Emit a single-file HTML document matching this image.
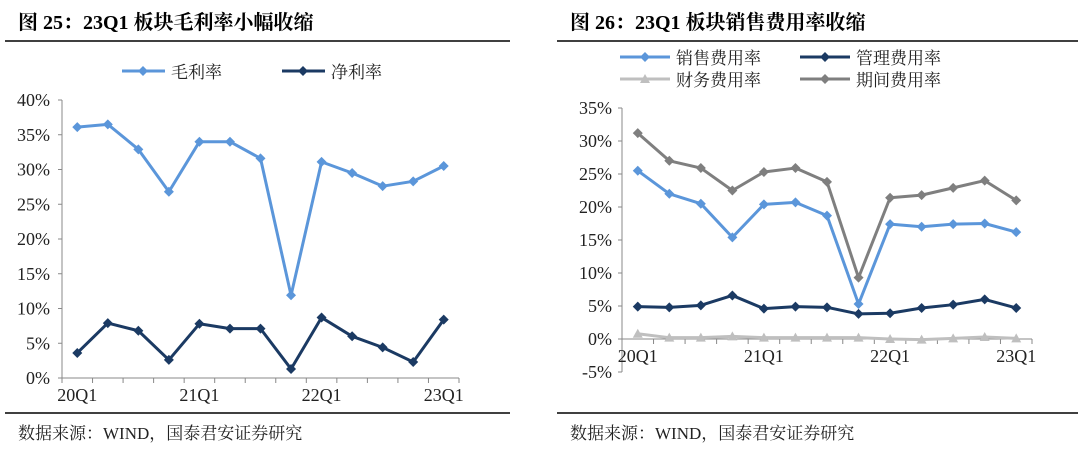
<!DOCTYPE html>
<html><head><meta charset="utf-8"><style>
body{margin:0;background:#fff;width:1080px;height:446px;overflow:hidden}
svg text{font-family:"Liberation Serif","Noto Serif CJK SC",serif}
</style></head><body>
<svg width="1080" height="446" xmlns="http://www.w3.org/2000/svg">
<g>
<text x="18" y="29" font-size="20" font-weight="bold" fill="#000">图 25：23Q1 板块毛利率小幅收缩</text>
<line x1="5" y1="41" x2="510" y2="41" stroke="#000" stroke-width="1.5"/>
<line x1="5" y1="413" x2="510" y2="413" stroke="#000" stroke-width="1.5"/>
<text x="18" y="439" font-size="17" fill="#222">数据来源：WIND，国泰君安证券研究</text>
</g>
<g>
<text x="570" y="29" font-size="20" font-weight="bold" fill="#000">图 26：23Q1 板块销售费用率收缩</text>
<line x1="557" y1="41" x2="1078" y2="41" stroke="#000" stroke-width="1.5"/>
<line x1="557" y1="413" x2="1078" y2="413" stroke="#000" stroke-width="1.5"/>
<text x="570" y="439" font-size="17" fill="#222">数据来源：WIND，国泰君安证券研究</text>
</g>
<g id="left"></g>
<g id="right"></g>
</svg>
<script>
const cats=["20Q1","20Q2","20Q3","20Q4","21Q1","21Q2","21Q3","21Q4","22Q1","22Q2","22Q3","22Q4","23Q1"];
const grossMargin=[36.1,36.5,32.9,26.8,34.0,34.0,31.6,11.9,31.1,29.5,27.6,28.3,30.5];
const netMargin=[3.6,7.9,6.8,2.6,7.8,7.1,7.1,1.3,8.7,6.0,4.4,2.3,8.4];
const leftTicks=[0,5,10,15,20,25,30,35,40];
const salesRate=[25.5,22.0,20.5,15.4,20.4,20.7,18.7,5.3,17.4,17.0,17.4,17.5,16.2];
const mgmtRate=[4.9,4.8,5.1,6.6,4.6,4.9,4.8,3.8,3.9,4.7,5.2,6.0,4.7];
const finRate=[0.8,0.2,0.2,0.4,0.2,0.2,0.2,0.2,0.0,-0.1,0.1,0.3,0.1];
const periodRate=[31.2,27.0,25.9,22.5,25.3,25.9,23.8,9.3,21.4,21.8,22.9,24.0,21.0];
const rightTicks=[-5,0,5,10,15,20,25,30,35];
const NS="http://www.w3.org/2000/svg";
function mk(p,t,a){const e=document.createElementNS(NS,t);for(const k in a)e.setAttribute(k,a[k]);p.appendChild(e);return e;}
function marker(g,x,y,col,shape){
  if(shape==="tri") return mk(g,"polygon",{points:`${x},${y-5} ${x+5},${y+4} ${x-5},${y+4}`,fill:col});
  return mk(g,"polygon",{points:`${x},${y-5} ${x+5},${y} ${x},${y+5} ${x-5},${y}`,fill:col});
}
function series(g,vals,X,Y,col,shape,name){
  const s=mk(g,"g",{});
  
  
  mk(s,"polyline",{points:vals.map((v,i)=>X(i)+","+Y(v)).join(" "),fill:"none",stroke:col,"stroke-width":3,"stroke-linejoin":"round"});
  vals.forEach((v,i)=>{const m=marker(s,X(i),Y(v),col,shape);
    
    });
}
(function(){
  const g=document.getElementById("left");
  const x0=62,x1=459,yTop=100,yBot=378,vmax=40;
  const step=(x1-x0)/13;
  const X=i=>x0+step*(i+0.5);
  const Y=v=>yBot-(v/vmax)*(yBot-yTop);
  mk(g,"line",{x1:x0,y1:yTop,x2:x0,y2:yBot,stroke:"#888"});
  mk(g,"line",{x1:x0,y1:yBot,x2:x1,y2:yBot,stroke:"#888"});
  leftTicks.forEach(t=>{mk(g,"line",{x1:x0-4,y1:Y(t),x2:x0,y2:Y(t),stroke:"#888"});
    const tx=mk(g,"text",{x:x0-12,y:Y(t)+6,"font-size":18,"text-anchor":"end",fill:"#222"});tx.textContent=t+"%";
    
    });
  for(let i=0;i<=13;i++)mk(g,"line",{x1:x0+step*i,y1:yBot,x2:x0+step*i,y2:yBot+5,stroke:"#888"});
  cats.forEach((c,i)=>{if(i%4===0){const t=mk(g,"text",{x:X(i),y:yBot+23,"font-size":18,"text-anchor":"middle",fill:"#222"});t.textContent=c;
    
    }});
  series(g,grossMargin,X,Y,"#5B96DA","dia","gross-margin-series");
  series(g,netMargin,X,Y,"#1B3A63","dia","net-margin-series");
  [[122,"#5B96DA","毛利率"],[282,"#1B3A63","净利率"]].forEach(([lx,col,lab])=>{
    const lg=mk(g,"g",{});
    
    
    mk(lg,"line",{x1:lx,y1:71,x2:lx+43,y2:71,stroke:col,"stroke-width":3});
    marker(lg,lx+21,71,col,"dia");
    const t=mk(lg,"text",{x:lx+49,y:78,"font-size":17,fill:"#222"});t.textContent=lab;});
})();
(function(){
  const g=document.getElementById("right");
  const x0=622,x1=1032,yTop=108,yBot=372,vmin=-5,vmax=35;
  const step=(x1-x0)/13;
  const X=i=>x0+step*(i+0.5);
  const Y=v=>yBot-((v-vmin)/(vmax-vmin))*(yBot-yTop);
  mk(g,"line",{x1:x0,y1:yTop,x2:x0,y2:yBot,stroke:"#888"});
  mk(g,"line",{x1:x0,y1:Y(0),x2:x1,y2:Y(0),stroke:"#888"});
  rightTicks.forEach(t=>{mk(g,"line",{x1:x0-4,y1:Y(t),x2:x0,y2:Y(t),stroke:"#888"});
    const tx=mk(g,"text",{x:x0-10,y:Y(t)+6,"font-size":18,"text-anchor":"end",fill:"#222"});tx.textContent=t+"%";
    
    });
  for(let i=0;i<=13;i++)mk(g,"line",{x1:x0+step*i,y1:Y(0),x2:x0+step*i,y2:Y(0)+5,stroke:"#888"});
  cats.forEach((c,i)=>{if(i%4===0){const t=mk(g,"text",{x:X(i),y:Y(0)+23,"font-size":18,"text-anchor":"middle",fill:"#222"});t.textContent=c;
    
    }});
  series(g,finRate,X,Y,"#BFBFBF","tri","finance-rate-series");
  series(g,periodRate,X,Y,"#7F7F7F","dia","period-rate-series");
  series(g,salesRate,X,Y,"#5B96DA","dia","sales-rate-series");
  series(g,mgmtRate,X,Y,"#1B3A63","dia","mgmt-rate-series");
  [[620,57,"#5B96DA","dia","销售费用率"],[800,57,"#1B3A63","dia","管理费用率"],[620,79,"#BFBFBF","tri","财务费用率"],[800,79,"#7F7F7F","dia","期间费用率"]].forEach(([lx,ly,col,sh,lab])=>{
    const lg=mk(g,"g",{});
    
    
    mk(lg,"line",{x1:lx,y1:ly,x2:lx+50,y2:ly,stroke:col,"stroke-width":3});
    marker(lg,lx+25,ly,col,sh);
    const t=mk(lg,"text",{x:lx+56,y:ly+7,"font-size":17,fill:"#222"});t.textContent=lab;});
})();
</script>
</body></html>
